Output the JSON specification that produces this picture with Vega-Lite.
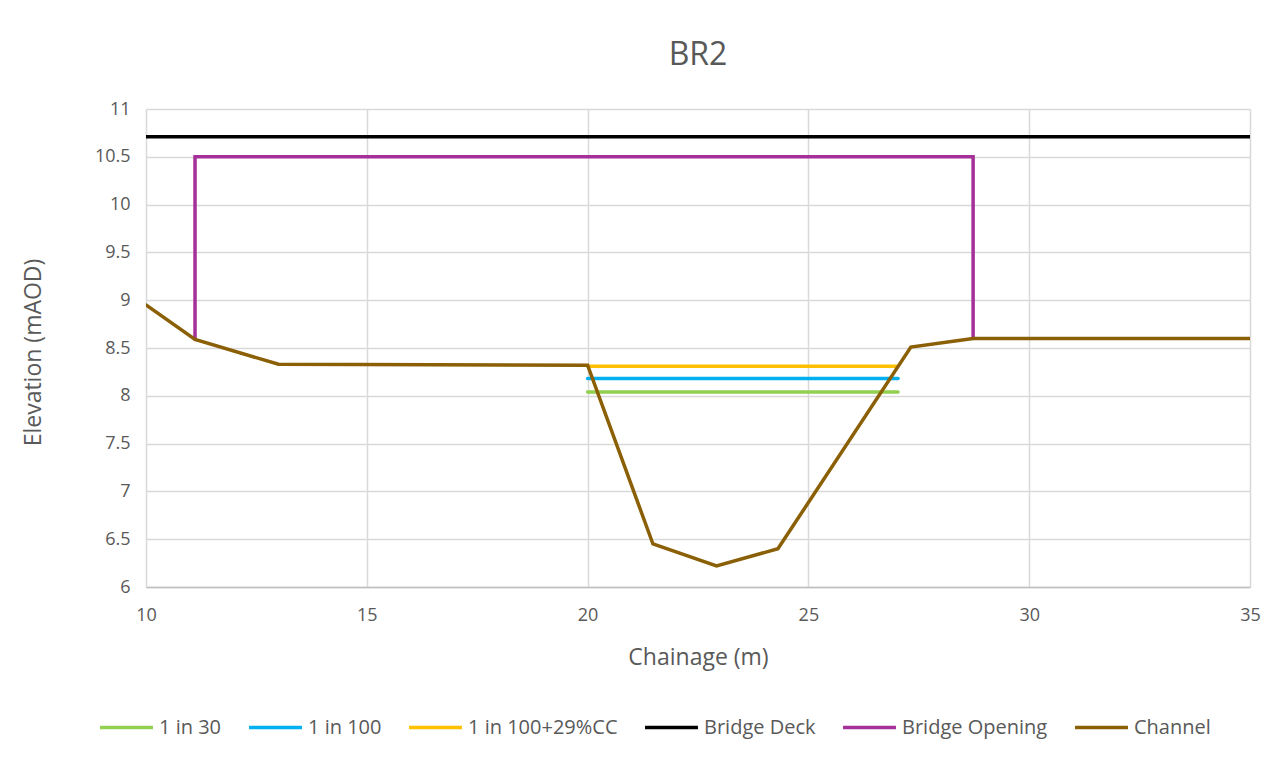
{
  "$schema": "https://vega.github.io/schema/vega-lite/v6.json",
  "width": 1104,
  "height": 478,
  "autosize": {"type": "none"},
  "padding": {"left": 146, "top": 109, "right": 32, "bottom": 173},
  "background": "white",
  "title": {"text": "BR2", "fontSize": 32, "font": "Open Sans", "fontWeight": "normal", "color": "#595959", "anchor": "middle", "offset": 28},
  "config": {
    "view": {"stroke": null},
    "font": "Open Sans"
  },
  "data": {"values": [
    {"series": "1 in 30", "i": 1, "x": 20, "y": 8.04},
    {"series": "1 in 30", "i": 2, "x": 27.03, "y": 8.04},
    {"series": "1 in 100", "i": 1, "x": 20, "y": 8.18},
    {"series": "1 in 100", "i": 2, "x": 27.03, "y": 8.18},
    {"series": "1 in 100+29%CC", "i": 1, "x": 20, "y": 8.31},
    {"series": "1 in 100+29%CC", "i": 2, "x": 27.0, "y": 8.31},
    {"series": "Bridge Deck", "i": 1, "x": 10, "y": 10.71},
    {"series": "Bridge Deck", "i": 2, "x": 35, "y": 10.71},
    {"series": "Bridge Opening", "i": 1, "x": 11.11, "y": 8.59},
    {"series": "Bridge Opening", "i": 2, "x": 11.11, "y": 10.5},
    {"series": "Bridge Opening", "i": 3, "x": 28.73, "y": 10.5},
    {"series": "Bridge Opening", "i": 4, "x": 28.73, "y": 8.6},
    {"series": "Channel", "i": 1, "x": 10, "y": 8.95},
    {"series": "Channel", "i": 2, "x": 11.11, "y": 8.59},
    {"series": "Channel", "i": 3, "x": 13.0, "y": 8.33},
    {"series": "Channel", "i": 4, "x": 20.0, "y": 8.32},
    {"series": "Channel", "i": 5, "x": 21.48, "y": 6.45},
    {"series": "Channel", "i": 6, "x": 22.92, "y": 6.22},
    {"series": "Channel", "i": 7, "x": 24.31, "y": 6.4},
    {"series": "Channel", "i": 8, "x": 27.32, "y": 8.51},
    {"series": "Channel", "i": 9, "x": 28.73, "y": 8.6},
    {"series": "Channel", "i": 10, "x": 35, "y": 8.6}
  ]},
  "mark": {"type": "line", "strokeWidth": 3.5, "strokeCap": "round", "strokeJoin": "miter", "clip": true},
  "encoding": {
    "x": {
      "field": "x", "type": "quantitative",
      "scale": {"domain": [10, 35], "nice": false, "zero": false},
      "axis": {
        "title": "Chainage (m)", "titleFontSize": 23, "titleFontWeight": "normal", "titleColor": "#595959",
        "titleY": 70, "titleBaseline": "middle",
        "values": [10, 15, 20, 25, 30, 35], "labelFlush": false,
        "labelFontSize": 18, "labelColor": "#595959", "labelPadding": 19, "ticks": false,
        "domain": true, "domainColor": "#bfbfbf", "domainWidth": 1.5,
        "grid": true, "gridColor": "#d9d9d9", "gridWidth": 1.5
      }
    },
    "y": {
      "field": "y", "type": "quantitative",
      "scale": {"domain": [6, 11], "nice": false, "zero": false},
      "axis": {
        "title": "Elevation (mAOD)", "titleFontSize": 23, "titleFontWeight": "normal", "titleColor": "#595959",
        "titleX": -113, "titleY": 243, "titleBaseline": "middle",
        "values": [6, 6.5, 7, 7.5, 8, 8.5, 9, 9.5, 10, 10.5, 11], "format": "~g", "labelFlush": false,
        "labelFontSize": 18, "labelColor": "#595959", "labelPadding": 16, "ticks": false,
        "domain": false,
        "grid": true, "gridColor": "#d9d9d9", "gridWidth": 1.5
      }
    },
    "color": {
      "field": "series", "type": "nominal",
      "scale": {
        "domain": ["1 in 30", "1 in 100", "1 in 100+29%CC", "Bridge Deck", "Bridge Opening", "Channel"],
        "range": ["#92D050", "#00B0F0", "#FFC000", "#000000", "#A5309A", "#8A5F05"]
      },
      "legend": {
        "title": null, "orient": "none", "direction": "horizontal",
        "legendX": -48, "legendY": 590, "gridAlign": "none",
        "symbolType": "stroke", "symbolSize": 2800, "symbolStrokeWidth": 3.5,
        "labelFontSize": 20, "labelColor": "#595959", "labelOffset": 4,
        "columnPadding": 20
      }
    },
    "order": {"field": "i", "type": "quantitative"}
  }
}
